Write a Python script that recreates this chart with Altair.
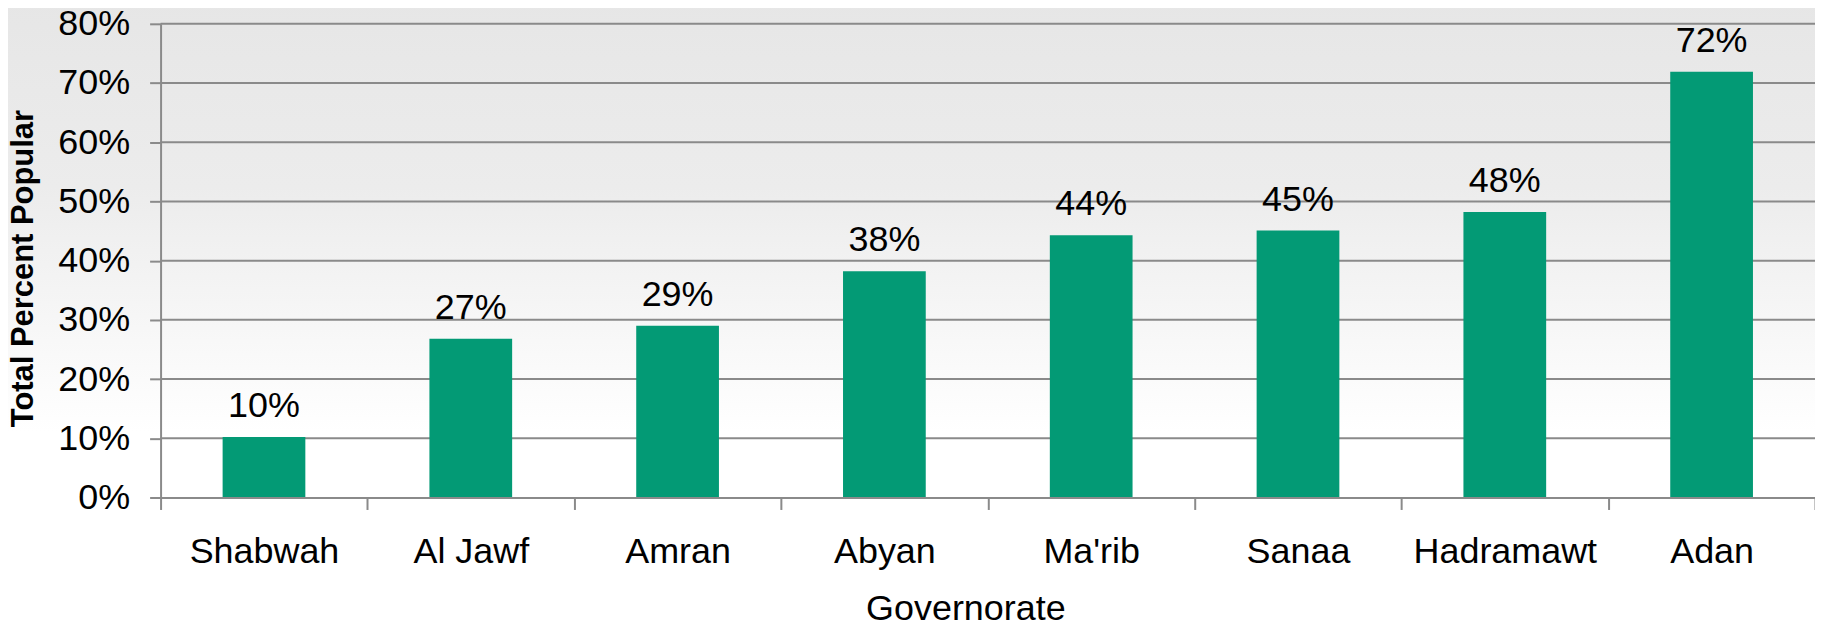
import altair as alt
import pandas as pd

governorates = ["Shabwah", "Al Jawf", "Amran", "Abyan", "Ma'rib", "Sanaa", "Hadramawt", "Adan"]
values = [0.102, 0.268, 0.290, 0.382, 0.443, 0.451, 0.482, 0.719]
y_ticks = [0.0, 0.1, 0.2, 0.3, 0.4, 0.5, 0.6, 0.7, 0.8]
grid_vals = [0.1, 0.2, 0.3, 0.4, 0.5, 0.6, 0.7, 0.8]

W, H = 1659, 475
FONT = "Liberation Sans"
GRAY = "#8a8a8a"
BAR = "#039a75"

df = pd.DataFrame({"Governorate": governorates, "Value": values})
grid_df = pd.DataFrame({"g": grid_vals})

x_enc = alt.X(
    "Governorate:N", sort=governorates,
    scale=alt.Scale(paddingInner=0, paddingOuter=0),
    axis=alt.Axis(
        title="Governorate", labelAngle=0, labelFont=FONT, labelFontSize=36,
        labelColor="black", labelPadding=25, labelLimit=0, tickBand="extent", tickSize=12,
        tickColor=GRAY, tickWidth=2, domainColor=GRAY, domainWidth=2,
        titleFont=FONT, titleFontSize=36, titleFontWeight="normal", titleColor="black",
        titleX=807, titleY=122, titleBaseline="alphabetic", titleAlign="center",
        grid=False, zindex=1,
    ),
)
y_scale = alt.Scale(domain=[0, 0.8], nice=False)
y_enc = alt.Y(
    "Value:Q", scale=y_scale,
    axis=alt.Axis(
        title="Total Percent Popular", values=y_ticks, format=".0%",
        labelFont=FONT, labelFontSize=36, labelColor="black", labelPadding=20,
        tickSize=11, tickColor=GRAY, tickWidth=2, domainColor=GRAY, domainWidth=2,
        titleFont=FONT, titleFontSize=31, titleFontWeight="bold", titleColor="black",
        titleAngle=270, titleX=-137, titleY=245, titleAlign="center", titleBaseline="middle",
        grid=False, zindex=1,
    ),
)

bg = alt.Chart(alt.Data(values=[{"a": 1}])).mark_rect(
    fill=alt.Gradient(
        gradient="linear", x1=0, x2=0, y1=0, y2=1,
        stops=[
            alt.GradientStop(color="#e6e6e6", offset=0),
            alt.GradientStop(color="#ececec", offset=0.3),
            alt.GradientStop(color="#f7f7f7", offset=0.52),
            alt.GradientStop(color="#ffffff", offset=0.68),
            alt.GradientStop(color="#ffffff", offset=1),
        ],
    ),
    clip=False,
).encode(x=alt.value(-170), x2=alt.value(W + 10), y=alt.value(-30), y2=alt.value(H + 140))

grid = alt.Chart(grid_df).mark_rule(color=GRAY, strokeWidth=2).encode(
    y=alt.Y("g:Q", scale=y_scale)
)

bars = alt.Chart(df).mark_bar(color=BAR, width=alt.RelativeBandSize(0.4)).encode(x=x_enc, y=y_enc)

labels = alt.Chart(df).mark_text(
    baseline="alphabetic", dy=-20, font=FONT, fontSize=36, color="black"
).encode(
    x=alt.X("Governorate:N", sort=governorates),
    y=alt.Y("Value:Q", scale=y_scale),
    text=alt.Text("Value:Q", format=".0%"),
)

chart = alt.layer(bg, grid, bars, labels).properties(
    width=W, height=H,
    autosize=alt.AutoSizeParams(type="none"),
    padding={"left": 153, "top": 15, "right": 0, "bottom": 128},
).configure_view(stroke=None).configure(background="#ffffff")

chart.save("out.html", embed_options={"renderer": "svg", "actions": False})
